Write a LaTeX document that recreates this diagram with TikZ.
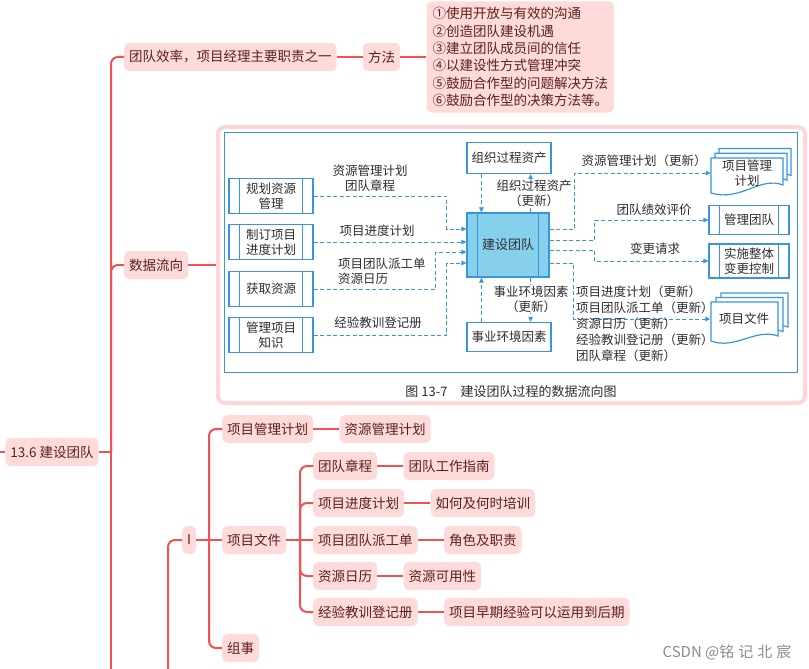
\documentclass[tikz,border=0pt]{standalone}
\usepackage{fontspec}
\setmainfont{Noto Sans CJK SC}
\usepackage{tikz}
\usetikzlibrary{arrows.meta,positioning}
\definecolor{mmred}{RGB}{245,80,80}
\definecolor{mmpink}{RGB}{253,219,219}
\definecolor{mmbrown}{RGB}{95,30,30}
\definecolor{figblue}{RGB}{55,150,225}
\definecolor{figcyan}{RGB}{135,208,235}
\definecolor{figink}{RGB}{45,45,50}
\definecolor{framepink}{RGB}{253,214,214}

\begin{document}
\begin{tikzpicture}[
  x=1pt, y=-1pt,
  font=\fontsize{13.5pt}{16pt}\selectfont,
  node distance=26pt,
  mm/.style={fill=mmpink, text=mmbrown, rounded corners=5pt, minimum height=28pt,
             inner xsep=5pt, inner ysep=0pt},
  link/.style={mmred, line width=2pt},
  elbow/.style={link, rounded corners=7pt},
  fbox/.style={draw=figblue, line width=1.2pt, fill=white, text=figink, align=center,
               font=\fontsize{12.5pt}{15pt}\selectfont, inner sep=2pt},
  fproc/.style={fbox, path picture={
      \draw[figblue, line width=1.2pt]
        ([xshift=10.5pt]path picture bounding box.north west) -- ([xshift=10.5pt]path picture bounding box.south west)
        ([xshift=-10.5pt]path picture bounding box.north east) -- ([xshift=-10.5pt]path picture bounding box.south east);}},
  flab/.style={text=figink, align=center, font=\fontsize{12.5pt}{15pt}\selectfont, inner sep=1pt},
  flow/.style={-{Triangle[length=5pt, width=4.5pt]}, figblue, dash pattern=on 4pt off 2.5pt, line width=1pt},
  figframe/.style={draw=framepink, line width=4pt, rounded corners=7pt, fill=white}
]
\useasboundingbox (0,0) rectangle (809,669);

% mind map, upper part
\node[mm] (root) at (52,452) {13.6 建设团队};
\coordinate (rootin) at (0,452);
\coordinate (j0) at (111,452);
\coordinate (trunkend) at (111,669);
\node[mm, anchor=west] (eff) at (124,57) {团队效率，项目经理主要职责之一};
\node[mm, right=of eff] (meth) {方法};
\node[mm, right=of meth, align=left, inner xsep=6pt, inner ysep=6pt,
      font=\fontsize{13.5pt}{17.3pt}\selectfont] (ways)
  {①使用开放与有效的沟通\\②创造团队建设机遇\\③建立团队成员间的信任\\
   ④以建设性方式管理冲突\\⑤鼓励合作型的问题解决方法\\⑥鼓励合作型的决策方法等。};
\node[mm, anchor=west] (data) at (124,265) {数据流向};
\node[figframe, anchor=north west, minimum width=587pt, minimum height=276pt] (figbox) at (216,125) {};

\draw[link] (rootin) -- (root.west);
\draw[link] (root.east) -- (j0);
\draw[link] (j0) -- (trunkend);
\draw[elbow] (j0) |- (eff.west);
\draw[elbow] (j0) |- (data.west);
\draw[link] (eff) -- (meth);
\draw[link] (meth) -- (ways);
\draw[link] (data.east) -- (data.east -| figbox.west);

% data flow figure
\node[draw=figblue, line width=1.3pt, minimum width=573pt, minimum height=240pt,
      anchor=north west] (panel) at (224,132) {};
\foreach \d in {8,4,0}
  \draw[figblue, line width=1.2pt, fill=white, shift={(\d,-1.2*\d)}]
    (711,158) -- (783,158) -- (783,185) .. controls (760,176) and (740,202) .. (711,193) -- cycle;
\foreach \d in {10,5,0}
  \draw[figblue, line width=1.2pt, fill=white, shift={(\d,-0.9*\d)}]
    (711,302) -- (778,302) -- (778,336) .. controls (755,328) and (735,350) .. (711,341) -- cycle;

\node[fproc, minimum width=84pt, minimum height=35pt] (plan) at (271,196) {规划资源\\管理};
\node[fproc, minimum width=84pt, minimum height=35pt] (sched) at (271,242) {制订项目\\进度计划};
\node[fproc, minimum width=84pt, minimum height=35pt] (acq) at (271,289) {获取资源};
\node[fproc, minimum width=84pt, minimum height=35pt] (know) at (271,335) {管理项目\\知识};
\node[fproc, fill=figcyan, minimum width=82pt, minimum height=64pt,
      font=\fontsize{13pt}{15pt}\selectfont] (build) at (508,245) {建设团队};
\node[fbox, minimum width=84pt, minimum height=31pt] (opa) at (509,158) {组织过程资产};
\node[fbox, minimum width=84pt, minimum height=29pt] (eef) at (509,337) {事业环境因素};
\node[fproc, minimum width=80pt, minimum height=29pt] (mteam) at (749,220) {管理团队};
\node[fproc, minimum width=80pt, minimum height=34pt] (ichg) at (749,261) {实施整体\\变更控制};
\node[flab, minimum width=72pt, minimum height=30pt] (fpmp) at (747,173) {项目管理\\计划};
\node[flab, minimum width=67pt] (fdocs) at (744,319) {项目文件};

\draw[flow] (plan.east) -- ++(133,0) |- ([yshift=16pt]build.west);
\draw[flow] (sched.east) -- (sched.east -| build.west);
\draw[flow] (acq.east) -- ++(122,0) |- ([yshift=-7pt]build.west);
\draw[flow] (know.east) -- ++(133,0) |- ([yshift=-18pt]build.west);
\draw[flow] ([xshift=15pt]opa.south west) -- ([xshift=15pt]build.north west);
\draw[flow] ([xshift=-19pt]build.north east) -- ([xshift=-19pt]build.north east |- opa.south);
\draw[flow] ([xshift=15pt]eef.north west) -- ([xshift=15pt]build.south west);
\draw[flow] ([xshift=-19pt]build.south east) -- ([xshift=-19pt]build.south east |- eef.north);
\draw[flow] ([yshift=16pt]build.east) -- ++(25,0) |- (fpmp.west);
\draw[flow] ([yshift=5pt]build.east) -- ++(45,0) |- (mteam.west);
\draw[flow] ([yshift=-5pt]build.east) -- ++(45,0) |- (ichg.west);
\draw[flow] ([yshift=-18pt]build.east) -- ++(24,0) |- (fdocs.west);

\node[flab] (lplan) at (370,178) {资源管理计划\\团队章程};
\node[flab] (lsched) at (377,231) {项目进度计划};
\node[flab, align=left, anchor=west] (lacq) at (337,271) {项目团队派工单\\资源日历};
\node[flab] (lknow) at (378,323) {经验教训登记册};
\node[flab, fill=white, inner sep=0.3pt] (lopa) at (534,193) {组织过程资产\\（更新）};
\node[flab, fill=white, inner sep=0.3pt] (leef) at (531,299) {事业环境因素\\（更新）};
\node[flab] (lpmp) at (644,161) {资源管理计划（更新）};
\node[flab] (lteam) at (654,210) {团队绩效评价};
\node[flab] (lchg) at (655,249) {变更请求};
\node[flab, align=left, anchor=north west, font=\fontsize{12.5pt}{16pt}\selectfont] (ldocs) at (575,285)
  {项目进度计划（更新）\\项目团队派工单（更新）\\资源日历（更新）\\经验教训登记册（更新）\\团队章程（更新）};
\node[flab, font=\fontsize{13pt}{15pt}\selectfont] (cap) at (511,392) {图 13-7\quad 建设团队过程的数据流向图};

% mind map, lower part
\node[mm, anchor=west] (ii) at (182,540) {I};
\coordinate (iiend) at (168,669);
\coordinate (j1) at (209,540);
\node[mm, anchor=west] (pmplan) at (222,429) {项目管理计划};
\node[mm, right=of pmplan] (rmplan) {资源管理计划};
\node[mm, anchor=west] (docs) at (222,540) {项目文件};
\node[mm, anchor=west] (staff) at (222,648) {组事};
\coordinate (j2) at (300,540);
\node[mm, anchor=west] (charter) at (313,466) {团队章程};
\node[mm, right=of charter] (guide) {团队工作指南};
\node[mm, anchor=west] (schedule) at (313,503) {项目进度计划};
\node[mm, right=of schedule] (train) {如何及何时培训};
\node[mm, anchor=west] (assign) at (313,540) {项目团队派工单};
\node[mm, right=of assign] (roles) {角色及职责};
\node[mm, anchor=west] (cal) at (313,576) {资源日历};
\node[mm, right=of cal] (avail) {资源可用性};
\node[mm, anchor=west] (lessons) at (313,612) {经验教训登记册};
\node[mm, right=of lessons] (early) {项目早期经验可以运用到后期};

\draw[elbow] (iiend) |- (ii.west);
\draw[link] (ii.east) -- (j1);
\draw[elbow] (j1) |- (pmplan.west);
\draw[link] (j1) -- (docs.west);
\draw[elbow] (j1) |- (staff.west);
\draw[link] (pmplan) -- (rmplan);
\draw[link] (docs.east) -- (j2);
\draw[elbow] (j2) |- (charter.west);
\draw[elbow] (j2) |- (schedule.west);
\draw[link] (j2) -- (assign.west);
\draw[elbow] (j2) |- (cal.west);
\draw[elbow] (j2) |- (lessons.west);
\draw[link] (charter) -- (guide);
\draw[link] (schedule) -- (train);
\draw[link] (assign) -- (roles);
\draw[link] (cal) -- (avail);
\draw[link] (lessons) -- (early);

\node[text=black!45, font=\fontsize{15pt}{17pt}\selectfont] (mark) at (727,652)
  {CSDN @铭\kern4pt 记\kern4pt 北\kern4pt 宸};
\end{tikzpicture}
\end{document}
